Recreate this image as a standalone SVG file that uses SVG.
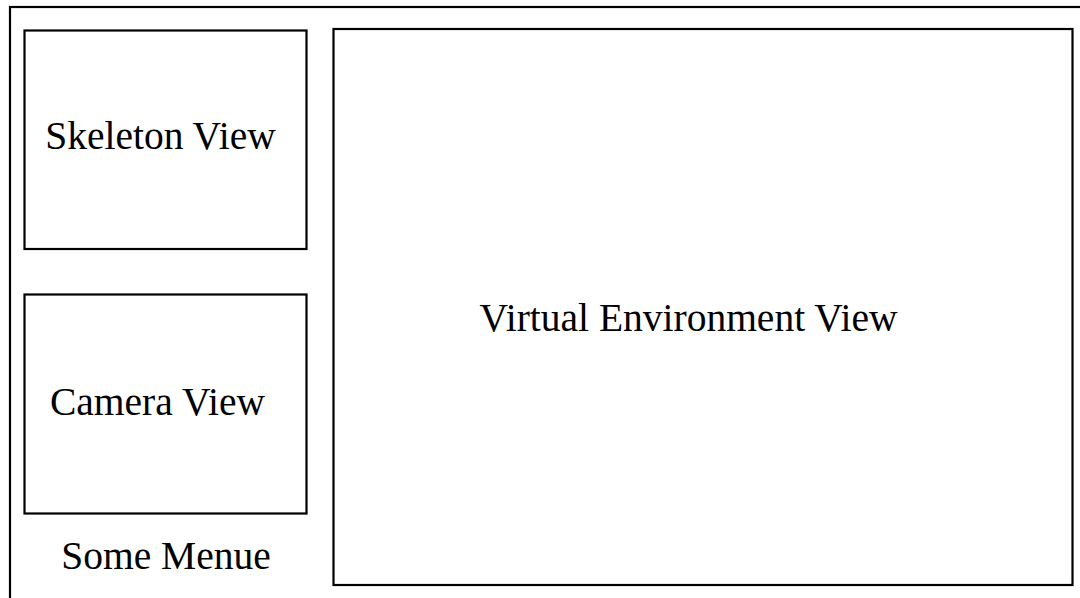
<svg xmlns="http://www.w3.org/2000/svg" width="1080" height="598" viewBox="0 0 1080 598">
<style>
.box{fill:#fff;stroke:#000;stroke-width:2.2}
.lbl{font-family:"Liberation Serif","Times New Roman",serif;font-size:39.5px;fill:#000;text-anchor:middle}
</style>
<rect width="1080" height="598" fill="#fff"/>
<g id="outer"><rect class="box" x="10" y="7" width="1090" height="620"/></g>
<g id="skeleton"><rect class="box" x="24.5" y="30.5" width="282" height="218.5"/><text class="lbl" x="160.5" y="149">Skeleton View</text></g>
<g id="camera"><rect class="box" x="24.5" y="294.5" width="282" height="219"/><text class="lbl" x="157.5" y="415">Camera View</text></g>
<g id="menu"><text class="lbl" x="166" y="569">Some Menue</text></g>
<g id="virtual"><rect class="box" x="333.5" y="29" width="739" height="556"/><text class="lbl" x="688.5" y="331">Virtual Environment View</text></g>
<g id="connectors"/>
</svg>
